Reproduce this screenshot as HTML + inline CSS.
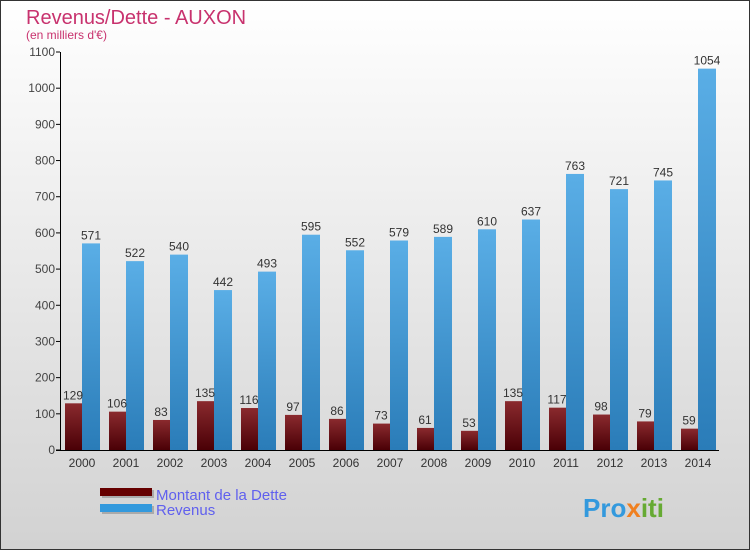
<!DOCTYPE html>
<html><head><meta charset="utf-8"><style>
body{margin:0}
#c{width:748px;height:548px;border:1px solid #333;background:linear-gradient(#fff,#d2d2d2);position:relative;overflow:hidden;font-family:"Liberation Sans",sans-serif}
</style></head><body>
<div id="c">
<svg id="s" width="748" height="548" xmlns="http://www.w3.org/2000/svg">
<defs>
<linearGradient id="gd" x1="0" y1="0" x2="0" y2="1"><stop offset="0" stop-color="#8a2a2e"/><stop offset="1" stop-color="#4a0006"/></linearGradient>
<linearGradient id="gr" x1="0" y1="0" x2="0" y2="1"><stop offset="0" stop-color="#5aaee6"/><stop offset="1" stop-color="#2a7cb8"/></linearGradient>
</defs>
<text x="25" y="23" font-size="20" fill="#c8326e">Revenus/Dette - AUXON</text>
<text x="25" y="38" font-size="12" fill="#c8326e">(en milliers d'€)</text>
<g id="plot"></g>
<g>
<rect x="101" y="489" width="52" height="8" fill="#aaa"/><rect x="99" y="487" width="52" height="8" fill="#600"/>
<text x="155" y="499" font-size="15" fill="#6060ee">Montant de la Dette</text>
<rect x="101" y="505" width="52" height="8" fill="#aaa"/><rect x="99" y="503" width="52" height="8" fill="#3399dd"/>
<text x="155" y="514" font-size="15" fill="#6060ee">Revenus</text>
</g>
<text x="582" y="516" font-size="26" font-weight="bold" fill="#3399dd">Pro<tspan fill="#f08020">x</tspan><tspan fill="#66aa33">iti</tspan></text>
</svg>
</div>
<script>
const years=["2000","2001","2002","2003","2004","2005","2006","2007","2008","2009","2010","2011","2012","2013","2014"];
const dette=[129,106,83,135,116,97,86,73,61,53,135,117,98,79,59];
const revenus=[571,522,540,442,493,595,552,579,589,610,637,763,721,745,1054];
const ticks=[0,100,200,300,400,500,600,700,800,900,1000,1100];
const NS="http://www.w3.org/2000/svg";
const g=document.getElementById('plot');
const y0=449,k=398/1100;
function Y(v){return y0-v*k;}
function X(i){return 81+i*44;}
function mk(t,a,txt){const e=document.createElementNS(NS,t);for(const n in a)e.setAttribute(n,a[n]);if(txt!=null)e.textContent=txt;g.appendChild(e);return e;}
ticks.forEach(t=>{
 const l=mk('line',{x1:55,x2:59,y1:Y(t),y2:Y(t),stroke:'#000'});
 
 
 const tx=mk('text',{x:54,y:Y(t)+4,'font-size':12,fill:'#444','text-anchor':'end'},String(t));
 
 
});
years.forEach((yr,i)=>{
 const cx=X(i);
 const sd=mk('rect',{x:cx-16,y:Y(dette[i])+1,width:17,height:dette[i]*k,fill:'#bbb'});
 
 
 const d=mk('rect',{x:cx-17,y:Y(dette[i]),width:17,height:dette[i]*k,fill:'url(#gd)'});
 
 
 const r=mk('rect',{x:cx,y:Y(revenus[i]),width:18,height:revenus[i]*k,fill:'url(#gr)'});
 
 
 const dl=mk('text',{x:cx-9,y:Y(dette[i])-4,'font-size':12,fill:'#333','text-anchor':'middle'},String(dette[i]));
 
 
 const rl=mk('text',{x:cx+9,y:Y(revenus[i])-4,'font-size':12,fill:'#333','text-anchor':'middle'},String(revenus[i]));
 
 
 const xl=mk('text',{x:cx,y:466,'font-size':12,fill:'#333','text-anchor':'middle'},yr);
 
 
});
const ya=mk('line',{x1:59.5,x2:59.5,y1:Y(1100),y2:y0,stroke:'#000'});


const xa=mk('line',{x1:55,x2:718,y1:y0+0.5,y2:y0+0.5,stroke:'#000'});


</script>
</body></html>
